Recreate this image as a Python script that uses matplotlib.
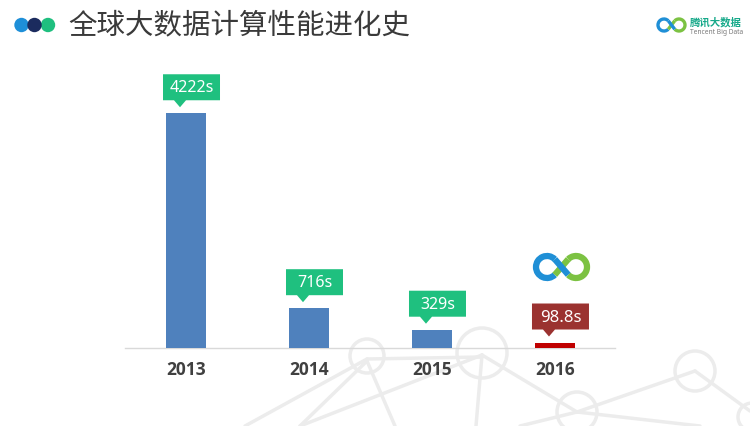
import matplotlib
matplotlib.use("Agg")
import numpy as np
import matplotlib.pyplot as plt
import matplotlib.transforms as mtransforms
from matplotlib.patches import Polygon, Circle, Arc

# ---- data ----
years = ["2013", "2014", "2015", "2016"]
times = [4222, 716, 329, 98.8]
labels = ["4222s", "716s", "329s", "98.8s"]
title = "全球大数据计算性能进化史"

DPI = 100
W, H = 750, 427
fig = plt.figure(figsize=(W / DPI, H / DPI), dpi=DPI)
fig.patch.set_facecolor("white")

# ---- background overlay (pixel coordinates) ----
bg = fig.add_axes([0, 0, 1, 1], zorder=0)
bg.set_xlim(0, W)
bg.set_ylim(H, 0)
bg.axis("off")

net_col = "#ececec"
circles = [(367, 357, 17), (482, 354, 25), (577, 413, 20), (695, 372, 20), (752, 418, 14)]
for cx, cy, r in circles:
    bg.add_patch(Circle((cx, cy), r, fill=False, ec=net_col, lw=2.5))
lines = [((367, 360), (482, 358)), ((367, 362), (300, 427)), ((367, 362), (395, 427)),
         ((482, 356), (476, 427)), ((482, 356), (577, 413)), ((300, 427), (482, 356)),
         ((577, 413), (695, 372)), ((695, 372), (750, 412)), ((577, 413), (520, 427)),
         ((577, 413), (700, 427)), ((245, 427), (367, 360))]
for (x0, y0), (x1, y1) in lines:
    bg.plot([x0, x1], [y0, y1], color=net_col, lw=2.5, solid_capstyle="round")

# title dots
for cx, col in [(21.5, "#1e8fd8"), (48, "#1fbf7f"), (34.5, "#1b2b5e")]:
    bg.add_patch(Circle((cx, 26), 7.2, color=col, ec="none"))
bg.text(68, 25, title, fontsize=20.5, color="#3a3a3a", va="center", ha="left",
        family=["Noto Sans CJK SC", "DejaVu Sans"])


def infinity(ax, cxl, cxr, cy, r, lw):
    blue, green = "#1f8fd6", "#7cc242"
    ax.add_patch(Arc((cxl, cy), 2 * r, 2 * r, theta1=45, theta2=315, color=blue, lw=lw))
    ax.add_patch(Arc((cxr, cy), 2 * r, 2 * r, theta1=225, theta2=495, color=green, lw=lw))
    p1 = (cxl + r * np.cos(np.deg2rad(315)), cy + r * np.sin(np.deg2rad(315)))
    p2 = (cxr + r * np.cos(np.deg2rad(135)), cy + r * np.sin(np.deg2rad(135)))
    q1 = (cxl + r * np.cos(np.deg2rad(45)), cy + r * np.sin(np.deg2rad(45)))
    q2 = (cxr + r * np.cos(np.deg2rad(225)), cy + r * np.sin(np.deg2rad(225)))
    ax.plot([q1[0], q2[0]], [q1[1], q2[1]], color=green, lw=lw, solid_capstyle="butt")
    ax.plot([p1[0], p2[0]], [p1[1], p2[1]], color=blue, lw=lw, solid_capstyle="butt")


infinity(bg, 547, 576, 268, 11, 4.5)
infinity(bg, 664, 679, 26, 6, 2.4)
bg.text(690, 22, "腾讯大数据", fontsize=7.5, color="#17a98a", fontweight="bold", va="center",
        ha="left", family=["Noto Sans CJK SC", "DejaVu Sans"])
bg.text(690, 32, "Tencent Big Data", fontsize=4.8, color="#7a7a7a", va="center", ha="left",
        family=["Noto Sans", "DejaVu Sans"])

# ---- main chart ----
ax = fig.add_axes([125 / W, (H - 349) / H, 490 / W, 278 / H], zorder=2)
ax.patch.set_alpha(0)
x = list(range(len(years)))
bar_colors = ["#4f81bd", "#4f81bd", "#4f81bd", "#c00000"]
ax.bar(x, times, width=0.325, color=bar_colors, zorder=3)
ax.set_xlim(-0.496, 3.488)
ax.set_ylim(0, 5000)
for s in ["top", "right", "left"]:
    ax.spines[s].set_visible(False)
ax.spines["bottom"].set_color("#d9d9d9")
ax.spines["bottom"].set_linewidth(1.0)
ax.set_yticks([])
ax.set_xticks(x)
ax.set_xticklabels(years, fontsize=12.5, fontweight="bold", color="#404040",
                   family=["Open Sans", "DejaVu Sans"])
ax.tick_params(axis="x", length=0, pad=9)

# callouts
box_colors = ["#1fc07f", "#1fc07f", "#1fc07f", "#9b3230"]
px = 1.0 / DPI
for xi, v, lab, bc in zip(x, times, labels, box_colors):
    trans = mtransforms.Affine2D().scale(px) + fig.dpi_scale_trans + \
        mtransforms.ScaledTranslation(xi, v, ax.transData)
    verts = [(-23, 13), (-12, 13), (-6, 6), (0, 13), (34, 13), (34, 39), (-23, 39)]
    ax.add_patch(Polygon(verts, closed=True, transform=trans, color=bc, ec="none",
                         zorder=4, clip_on=False))
    bold = bc == "#9b3230"
    ax.text(5.5, 26, lab, transform=trans, ha="center", va="center", color="white",
            fontsize=12 if bold else 11.5, fontweight="bold" if bold else "normal",
            family=["Noto Sans", "DejaVu Sans"], zorder=5, clip_on=False)

fig.savefig("out.png", dpi=DPI)
